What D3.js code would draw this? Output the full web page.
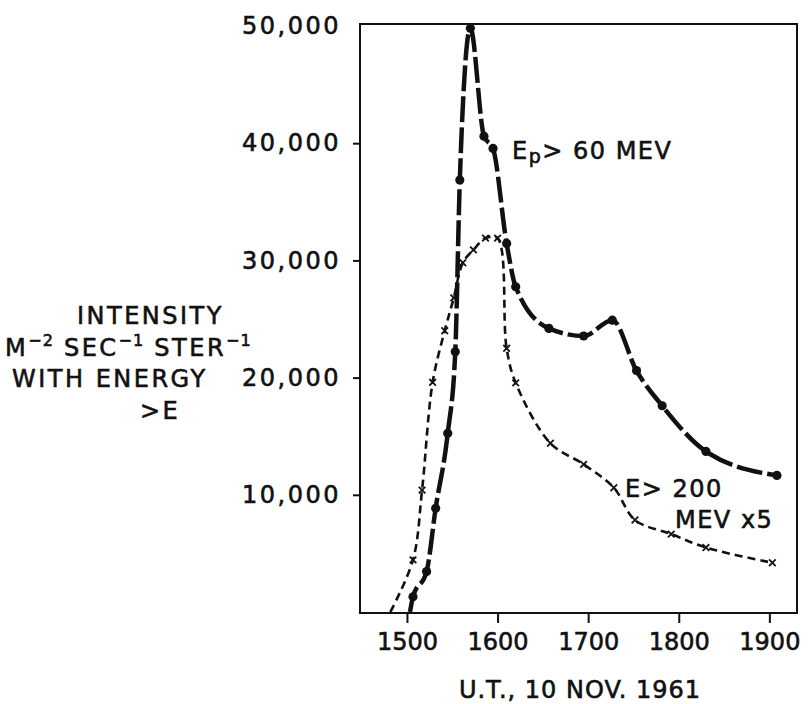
<!DOCTYPE html>
<html>
<head>
<meta charset="utf-8">
<script src="https://cdn.jsdelivr.net/npm/d3@7"></script>
<style>
  body { margin: 0; background: #fff; }
  text { font-family: "DejaVu Sans", sans-serif; fill: #111; stroke: #111; stroke-width: 0.6px; }
</style>
</head>
<body>
<div id="chart"></div>
<script>
// U.T. times (hhmm) and intensities, 10 Nov 1961
// first entry of each series is where the curve leaves the time axis (no marker)
var protonTimes  = [1502, 1504, 1513, 1519, 1527, 1532, 1535, 1542, 1551, 1557, 1606, 1612, 1634, 1657, 1716, 1732, 1749, 1818, 1905];
var protonValues = [0, 1300, 3450, 8850, 15250, 22200, 36850, 49800, 40600, 39550, 31450, 27750, 24200, 23550, 24900, 20600, 17600, 13700, 11650];

var highTimes  = [1449, 1504, 1510, 1517, 1525, 1531, 1537, 1544, 1552, 1600, 1606, 1612, 1635, 1657, 1717, 1731, 1755, 1818, 1902];
var highValues = [0, 4450, 10400, 19600, 24000, 26800, 29800, 30900, 31900, 31900, 22500, 19550, 14400, 12600, 10600, 7850, 6650, 5500, 4200];

var xTicks = [1500, 1600, 1700, 1800, 1900];
var yTicks = [10000, 20000, 30000, 40000, 50000];

// hhmm -> minutes after midnight
function toMin(t) { return Math.floor(t / 100) * 60 + t % 100; }

var width = 808, height = 704;
var plot = {left: 360, right: 797, top: 24, bottom: 613};

var svg = d3.select("#chart")
  .append("svg")
  .attr("width", width)
  .attr("height", height);

var x = d3.scaleLinear().domain([868.9, 1158.3]).range([plot.left, plot.right]);
var y = d3.scaleLinear().domain([0, 50000]).range([612, 26]);

// frame
svg.append("rect")
  .attr("x", plot.left)
  .attr("y", plot.top)
  .attr("width", plot.right - plot.left)
  .attr("height", plot.bottom - plot.top)
  .attr("fill", "none")
  .attr("stroke", "#111")
  .attr("stroke-width", 2);

// axes
var yAxis = svg.append("g")
  .attr("transform", "translate(" + plot.left + ",0)")
  .call(d3.axisLeft(y).tickValues(yTicks).tickSize(7).tickPadding(12).tickFormat(d3.format(",")));
yAxis.select(".domain").remove();
yAxis.selectAll(".tick line").attr("stroke", "#111").attr("stroke-width", 2)
  .filter(function(d) { return d === 50000; }).remove();
yAxis.selectAll(".tick text")
  .attr("font-size", 24)
  .attr("letter-spacing", 2.5)
  .attr("font-family", "DejaVu Sans")
  .attr("fill", "#111");

var xAxis = svg.append("g")
  .attr("transform", "translate(0," + plot.bottom + ")")
  .call(d3.axisBottom(x).tickValues(xTicks.map(toMin)).tickSize(10).tickPadding(10)
    .tickFormat(function(d, i) { return xTicks[i]; }));
xAxis.select(".domain").remove();
xAxis.selectAll(".tick line").attr("stroke", "#111").attr("stroke-width", 2);
xAxis.selectAll(".tick text")
  .attr("font-size", 24)
  .attr("font-family", "DejaVu Sans")
  .attr("fill", "#111");

// curves
var protonData = protonTimes.map(function(t, i) { return {t: toMin(t), v: protonValues[i]}; });
var highData = highTimes.map(function(t, i) { return {t: toMin(t), v: highValues[i]}; });

var protonLine = d3.line()
  .x(function(d) { return x(d.t); })
  .y(function(d) { return y(d.v); })
  .curve(d3.curveMonotoneX);

var highLine = d3.line()
  .x(function(d) { return x(d.t); })
  .y(function(d) { return y(d.v); })
  .curve(d3.curveCatmullRom.alpha(0.5));

svg.append("path")
  .datum(highData)
  .attr("d", highLine)
  .attr("fill", "none")
  .attr("stroke", "#111")
  .attr("stroke-width", 2.6)
  .attr("stroke-dasharray", "8,5");

svg.append("path")
  .datum(protonData)
  .attr("d", protonLine)
  .attr("fill", "none")
  .attr("stroke", "#111")
  .attr("stroke-width", 4.5)
  .attr("stroke-dasharray", "26,5");

// markers
svg.selectAll(".dot")
  .data(protonData.slice(1))
  .enter()
  .append("circle")
    .attr("class", "dot")
    .attr("cx", function(d) { return x(d.t); })
    .attr("cy", function(d) { return y(d.v); })
    .attr("r", 4.6)
    .attr("fill", "#111");

svg.selectAll(".cross")
  .data(highData.slice(1))
  .enter()
  .append("path")
    .attr("class", "cross")
    .attr("transform", function(d) { return "translate(" + x(d.t) + "," + y(d.v) + ")"; })
    .attr("d", d3.symbol().type(d3.symbolX).size(30))
    .attr("fill", "none")
    .attr("stroke", "#111")
    .attr("stroke-width", 1.8);

// series labels
var lab1 = svg.append("text")
  .attr("x", 512).attr("y", 159)
  .attr("font-size", 24).attr("letter-spacing", 1.5);
lab1.append("tspan").text("E");
lab1.append("tspan").attr("font-size", 19).attr("dy", 4).text("p");
lab1.append("tspan").attr("dy", -4).text("> 60 MEV");

svg.append("text")
  .attr("x", 625).attr("y", 497)
  .attr("font-size", 24).attr("letter-spacing", 1.5)
  .text("E> 200");
svg.append("text")
  .attr("x", 675).attr("y", 528)
  .attr("font-size", 24).attr("letter-spacing", 1.5)
  .text("MEV x5");

// y label block
var yl = svg.append("g").attr("font-size", 24).attr("letter-spacing", 2.5);
yl.append("text").attr("x", 77).attr("y", 324).text("INTENSITY");
var unit = yl.append("text").attr("x", 5).attr("y", 356);
unit.append("tspan").text("M");
unit.append("tspan").attr("font-size", 16).attr("dy", -10).attr("letter-spacing", 1).text("\u22122");
unit.append("tspan").attr("dy", 10).text(" SEC");
unit.append("tspan").attr("font-size", 16).attr("dy", -10).attr("letter-spacing", 1).text("\u22121");
unit.append("tspan").attr("dy", 10).text(" STER");
unit.append("tspan").attr("font-size", 16).attr("dy", -10).attr("letter-spacing", 1).text("\u22121");
yl.append("text").attr("x", 12).attr("y", 387).text("WITH ENERGY");
yl.append("text").attr("x", 140).attr("y", 419).text(">E");

// time axis title
svg.append("text")
  .attr("x", 580).attr("y", 698)
  .attr("text-anchor", "middle")
  .attr("font-size", 24).attr("letter-spacing", 1)
  .text("U.T., 10 NOV. 1961");
</script>
</body>
</html>
